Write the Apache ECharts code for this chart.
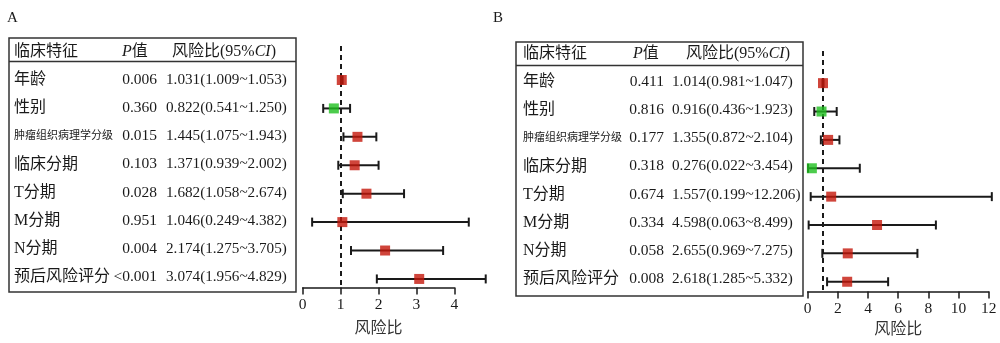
<!DOCTYPE html>
<html><head><meta charset="utf-8">
<script src="https://cdn.jsdelivr.net/npm/echarts@6/dist/echarts.min.js"></script>
<style>html,body{margin:0;padding:0;background:#fff}#c{width:1000px;height:343px}</style>
</head><body><div id="c"></div>
<script>
// ---------- data ----------
const features = ['年龄','性别','肿瘤组织病理学分级','临床分期','T分期','M分期','N分期','预后风险评分'];
const pA    = ['0.006','0.360','0.015','0.103','0.028','0.951','0.004','<0.001'];
const hrA   = [1.031, 0.822, 1.445, 1.371, 1.682, 1.046, 2.174, 3.074];
const lowA  = [1.009, 0.541, 1.075, 0.939, 1.058, 0.249, 1.275, 1.956];
const highA = [1.053, 1.250, 1.943, 2.002, 2.674, 4.382, 3.705, 4.829];
const pB    = ['0.411','0.816','0.177','0.318','0.674','0.334','0.058','0.008'];
const hrB   = [1.014, 0.916, 1.355, 0.276, 1.557, 4.598, 2.655, 2.618];
const lowB  = [0.981, 0.436, 0.872, 0.022, 0.199, 0.063, 0.969, 1.285];
const highB = [1.047, 1.923, 2.104, 3.454, 12.206, 8.499, 7.275, 5.332];
const ticksA = [0, 1, 2, 3, 4];
const ticksB = [0, 2, 4, 6, 8, 10, 12];
const headers = ['临床特征', '{i|P}值', '风险比(95%{i|CI})'];
const axisTitle = '风险比';
const refValue = 1;

// ---------- style / layout ----------
const SERIF = '"Liberation Serif","Noto Sans CJK SC",serif';
const RED = '#c4160a', GREEN = '#1fbf1f', INK = '#1a1a1a';

function range(top, bottom, y1, step) {
  return { min: 1 + (top - y1) / step, max: 1 + (bottom - y1) / step };
}
const P = {
  A: {
    table: { left: 9, top: 38, width: 287, height: 254 }, textY1: 80, textStep: 28.14, headLineY: 61,
    plot: { left: 302.7, top: 45.9, width: 151.6, height: 241.6 }, rowY1: 80, rowStep: 28.42,
    cols: { name: 5, pHead: 113, hrHead: 163, p: 148, hr: 157 }, nameGap: 33
  },
  B: {
    table: { left: 516, top: 42, width: 287, height: 254 }, textY1: 82, textStep: 28.14, headLineY: 65,
    plot: { left: 807.7, top: 51, width: 181, height: 241.7 }, rowY1: 83.3, rowStep: 28.5,
    cols: { name: 7, pHead: 117, hrHead: 170, p: 148, hr: 156 }, nameGap: 27
  }
};

function fmtHR(h, l, u) { return h.toFixed(3) + '(' + l.toFixed(3) + '~' + u.toFixed(3) + ')'; }

const grids = [], xAxes = [], yAxes = [], series = [];

function addPanel(L, pv, hr, lo, hi, ticks) {
  // table grid
  const tg = grids.length;
  grids.push(Object.assign({ show: true, borderColor: '#333', borderWidth: 1.5, backgroundColor: 'transparent' }, L.table));
  xAxes.push({ gridIndex: tg, type: 'value', min: 0, max: L.table.width, show: false });
  const tr = range(L.table.top, L.table.top + L.table.height, L.textY1, L.textStep);
  yAxes.push({ gridIndex: tg, type: 'value', inverse: true, min: tr.min, max: tr.max, show: false });
  const headV = 1 + (L.headLineY - L.textY1) / L.textStep;

  const items = [
    { x: L.cols.name, v: 0, t: headers[0], a: 'left', fs: 16 },
    { x: L.cols.pHead, v: 0, t: headers[1], a: 'left', fs: 16 },
    { x: L.cols.hrHead, v: 0, t: headers[2], a: 'left', fs: 16 }
  ];
  features.forEach((n, i) => {
    items.push({ x: L.cols.name, v: i + 1, t: n, a: 'left', fs: n.length > 6 ? 11 : 16 });
    items.push({ x: L.cols.p, v: i + 1, t: pv[i], a: 'right', fs: 15.5 });
    items.push({ x: L.cols.hr, v: i + 1, t: fmtHR(hr[i], lo[i], hi[i]), a: 'left', fs: 15.2 });
  });
  series.push({
    type: 'custom', xAxisIndex: tg, yAxisIndex: tg, clip: false, silent: true,
    data: items.map((r, k) => [r.x, r.v, k]),
    renderItem(params, api) {
      const r = items[api.value(2)];
      const c = api.coord([r.x, r.v]);
      return {
        type: 'text', x: c[0], y: c[1],
        style: {
          text: r.t, fontSize: r.fs, fontFamily: SERIF, fill: INK, align: r.a, verticalAlign: 'middle',
          rich: { i: { fontStyle: 'italic', fontSize: r.fs, fontFamily: SERIF, fill: INK } }
        }
      };
    },
    markLine: {
      silent: true, symbol: ['none', 'none'], animation: false, label: { show: false },
      lineStyle: { color: '#333', width: 1.3, type: 'solid' },
      data: [{ yAxis: headV }]
    }
  });

  // plot grid
  const pg = grids.length;
  grids.push(Object.assign({ show: false }, L.plot));
  xAxes.push({
    gridIndex: pg, type: 'value', position: 'bottom',
    min: ticks[0], max: ticks[ticks.length - 1], interval: ticks[1] - ticks[0],
    axisLine: { show: true, onZero: false, lineStyle: { color: INK, width: 1.5 } },
    axisTick: { show: true, length: 7, lineStyle: { color: INK, width: 1.5 } },
    axisLabel: { color: INK, fontFamily: SERIF, fontSize: 15.5, margin: 10 },
    splitLine: { show: false },
    name: axisTitle, nameLocation: 'middle', nameGap: L.nameGap,
    nameTextStyle: { color: '#333', fontFamily: SERIF, fontSize: 16 }
  });
  const pr = range(L.plot.top, L.plot.top + L.plot.height, L.rowY1, L.rowStep);
  yAxes.push({ gridIndex: pg, type: 'value', inverse: true, min: pr.min, max: pr.max, show: false });

  series.push({
    type: 'custom', xAxisIndex: pg, yAxisIndex: pg, clip: false, silent: true,
    data: hr.map((h, i) => [lo[i], hi[i], i + 1]),
    encode: { x: [0, 1], y: 2 },
    renderItem(params, api) {
      const a = api.coord([api.value(0), api.value(2)]);
      const b = api.coord([api.value(1), api.value(2)]);
      const cap = 4.5, st = { stroke: INK, lineWidth: 2 };
      return {
        type: 'group', children: [
          { type: 'line', shape: { x1: a[0], y1: a[1], x2: b[0], y2: b[1] }, style: st },
          { type: 'line', shape: { x1: a[0], y1: a[1] - cap, x2: a[0], y2: a[1] + cap }, style: st },
          { type: 'line', shape: { x1: b[0], y1: b[1] - cap, x2: b[0], y2: b[1] + cap }, style: st }
        ]
      };
    }
  });
  series.push({
    type: 'scatter', xAxisIndex: pg, yAxisIndex: pg, symbol: 'rect', symbolSize: 10, z: 5, silent: true,
    data: hr.map((h, i) => ({ value: [h, i + 1], itemStyle: { color: h < refValue ? GREEN : RED } })),
    markLine: {
      silent: true, symbol: ['none', 'none'], animation: false, label: { show: false },
      lineStyle: { color: INK, width: 2, type: [5, 4] },
      data: [{ xAxis: refValue }]
    }
  });
}

addPanel(P.A, pA, hrA, lowA, highA, ticksA);
addPanel(P.B, pB, hrB, lowB, highB, ticksB);

const chart = echarts.init(document.getElementById('c'), null, { renderer: 'canvas' });
chart.setOption({
  animation: false,
  backgroundColor: '#fff',
  title: [
    { text: 'A', left: 2, top: 6, textStyle: { fontFamily: SERIF, fontSize: 15, fontWeight: 'normal', color: INK } },
    { text: 'B', left: 488, top: 6, textStyle: { fontFamily: SERIF, fontSize: 15, fontWeight: 'normal', color: INK } }
  ],
  grid: grids, xAxis: xAxes, yAxis: yAxes, series: series
});
</script>
</body></html>
